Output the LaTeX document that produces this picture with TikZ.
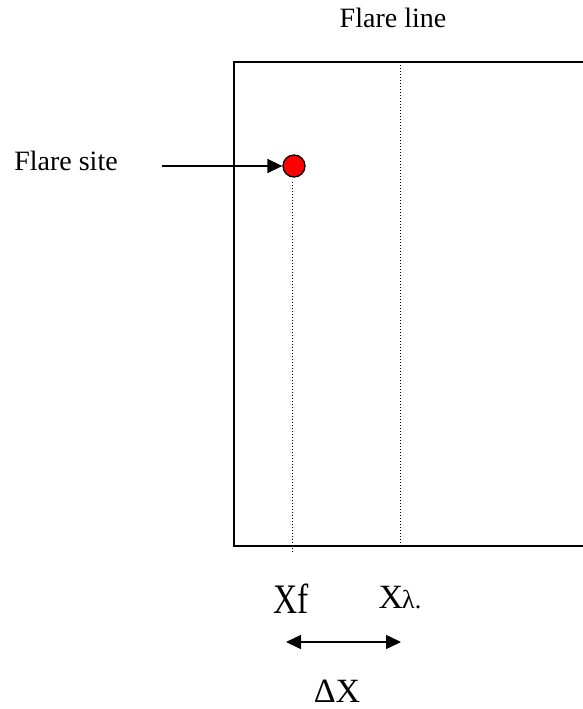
\documentclass[tikz,border=0pt]{standalone}
\usepackage{fontspec}
\setmainfont{Liberation Serif}
\usetikzlibrary{arrows.meta}
\tikzset{
  px/.style={x=1pt, y=-1pt},
  frame/.style={black, line width=1.8pt},
  guide/.style={black, line width=0.9pt, dash pattern=on 1pt off 2pt},
  ptr/.style={black, line width=1.5pt, -{Triangle[length=15pt,width=14pt]}},
  dptr/.style={black, line width=1.5pt, {Triangle[length=15pt,width=14pt]}-{Triangle[length=15pt,width=14pt]}},
  site/.style={circle, draw=black, line width=1.3pt, fill=red, minimum size=22pt, inner sep=0pt},
  lbl/.style={inner sep=0pt, anchor=base, font=\fontsize{28}{32}\selectfont},
  big/.style={inner sep=0pt, anchor=base, font=\fontsize{34}{38}\selectfont},
}
\begin{document}
\begin{tikzpicture}[px]
  \useasboundingbox (0,0) rectangle (583,709);
  % the frame (right side runs off the page)
  \draw[frame] (583,62) -- (234,62) -- (234,546) -- (583,546);
  \node[lbl] (title) at (393,28) {Flare line};
  % flare site and pointer
  \node[site] (flare) at (294,166) {};
  \node[lbl] (sitelbl) at (66,170) {Flare site};
  \coordinate (ptrstart) at (162,166);
  \draw[ptr] (ptrstart) -- (flare.west);
  % vertical guides
  \coordinate (fbot) at (292,552);
  \coordinate (ltop) at (400,62);
  \coordinate (lbot) at (400,546);
  \draw[guide] (flare.south) ++(-2,4) -- (fbot);
  \draw[guide] (ltop) -- (lbot);
  % positions and separation
  \node[inner sep=0pt, anchor=base, font=\fontsize{42}{46}\selectfont] (xf) at (291,613) {\scalebox{0.8}[1]{Xf}};
  \node[big] (xl) at (400,608) {X\kern-1pt{\fontsize{26}{30}\selectfont λ.}};
  \coordinate (da) at (286,642);
  \coordinate (db) at (401,642);
  \draw[dptr] (da) -- (db);
  \node[big] (dx) at (337,702) {ΔX};
\end{tikzpicture}
\end{document}
